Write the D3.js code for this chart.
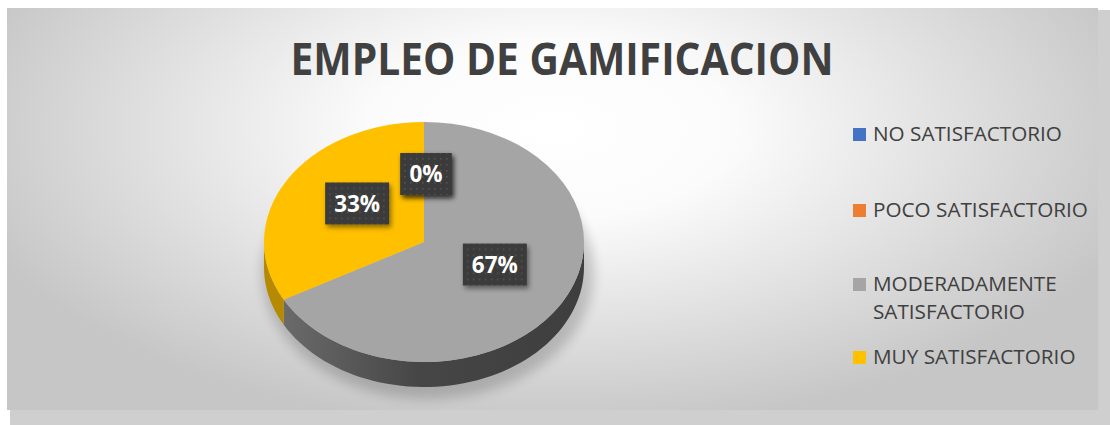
<!DOCTYPE html>
<html>
<head>
<meta charset="utf-8">
<script src="https://cdn.jsdelivr.net/npm/d3@7"></script>
<style>
  body { margin: 0; background: #fff; }
  svg { display: block; }
  text { font-family: "Open Sans", Calibri, sans-serif; }
</style>
</head>
<body>
<div id="chart"></div>
<script>
// Data
var categories = ["NO SATISFACTORIO", "POCO SATISFACTORIO", "MODERADAMENTE SATISFACTORIO", "MUY SATISFACTORIO"];
var shares = [0, 0, 67, 33];
var labels = ["0%", "0%", "67%", "33%"];
var legendLines = [["NO SATISFACTORIO"], ["POCO SATISFACTORIO"], ["MODERADAMENTE", "SATISFACTORIO"], ["MUY SATISFACTORIO"]];
var title = "EMPLEO DE GAMIFICACION";

var topColors = ["#4472c4", "#ed7d31", "#a5a5a5", "#ffc000"];
var sideColors = ["#2f528f", "#ae5a21", "#444444", "#b58a00"];

var svgWidth = 1110, svgHeight = 425;

var svg = d3.select("#chart").append("svg")
  .attr("width", svgWidth)
  .attr("height", svgHeight);

var defs = svg.append("defs");

// background gradient
var bg = defs.append("radialGradient")
  .attr("id", "bgGrad")
  .attr("cx", "0.5").attr("cy", "0.3").attr("r", "0.75")
  .attr("gradientTransform", "translate(0.5,0.3) scale(0.75,1) translate(-0.5,-0.3)");
bg.append("stop").attr("offset", "0%").attr("stop-color", "#ffffff");
bg.append("stop").attr("offset", "30%").attr("stop-color", "#fbfbfb");
bg.append("stop").attr("offset", "100%").attr("stop-color", "#c6c6c6");

var blur = defs.append("filter").attr("id", "blur").attr("x", "-20%").attr("y", "-20%").attr("width", "140%").attr("height", "140%");
blur.append("feGaussianBlur").attr("stdDeviation", 6);

var lblShadow = defs.append("filter").attr("id", "lblShadow").attr("x", "-30%").attr("y", "-30%").attr("width", "160%").attr("height", "160%");
lblShadow.append("feDropShadow").attr("dx", 2).attr("dy", 3).attr("stdDeviation", 2.5)
  .attr("flood-color", "#000").attr("flood-opacity", 0.45);

var dots = defs.append("pattern").attr("id", "dots")
  .attr("width", 6).attr("height", 6).attr("patternUnits", "userSpaceOnUse");
dots.append("rect").attr("width", 6).attr("height", 6).attr("fill", "#3b3b3b");
dots.append("rect").attr("x", 2).attr("y", 2).attr("width", 1.5).attr("height", 1.5).attr("fill", "#555");

var sideGrad = defs.append("linearGradient").attr("id", "sideGrad")
  .attr("x1", "0").attr("x2", "1").attr("y1", "0").attr("y2", "0");
sideGrad.append("stop").attr("offset", "0%").attr("stop-color", "#6a6a6a");
sideGrad.append("stop").attr("offset", "45%").attr("stop-color", "#464646");
sideGrad.append("stop").attr("offset", "100%").attr("stop-color", "#3e3e3e");

// chart frame + shadow
svg.append("rect")
  .attr("x", 10).attr("y", 10).attr("width", 1100).attr("height", 415)
  .attr("fill", "#cfcfcf");
svg.append("rect")
  .attr("x", 7).attr("y", 8).attr("width", 1091).attr("height", 402)
  .attr("fill", "url(#bgGrad)");

// title
var titleText = svg.append("text")
  .attr("x", 562).attr("y", 75)
  .attr("text-anchor", "middle")
  .attr("font-size", 44)
  .attr("font-weight", "bold")
  .attr("fill", "#404040")
  .text(title);
titleText.attr("textLength", 543).attr("lengthAdjust", "spacingAndGlyphs");

// pie geometry
var cx = 424, cy = 242, rx = 160, ry = 120, depth = 25;

var pie = d3.pie().sort(null).value(d => d);
var arcs = pie(shares);

function pt(a, dy) {
  return [cx + rx * Math.sin(a), cy - ry * Math.cos(a) + (dy || 0)];
}

// soft shadow under the pie
svg.append("ellipse")
  .attr("cx", cx + 4).attr("cy", cy + depth + 6)
  .attr("rx", rx + 6).attr("ry", ry + 6)
  .attr("fill", "#000").attr("opacity", 0.18)
  .attr("filter", "url(#blur)");

// side walls (front half only: angles between PI/2 and 3PI/2)
var line = d3.line();
arcs.forEach(function(d, i) {
  var a0 = Math.max(d.startAngle, Math.PI / 2);
  var a1 = Math.min(d.endAngle, Math.PI * 1.5);
  if (a1 <= a0) return;
  var n = 60, top = [], bottom = [];
  for (var k = 0; k <= n; k++) {
    var a = a0 + (a1 - a0) * k / n;
    top.push(pt(a));
    bottom.push(pt(a, depth));
  }
  var pts = top.concat(bottom.reverse());
  svg.append("path")
    .attr("d", line(pts) + "Z")
    .attr("fill", i === 2 ? "url(#sideGrad)" : sideColors[i]);
});

// top faces
var arc = d3.arc().innerRadius(0).outerRadius(rx);
var topG = svg.append("g")
  .attr("transform", `translate(${cx},${cy}) scale(1,${ry / rx})`);
topG.selectAll("path")
  .data(arcs)
  .enter()
  .append("path")
  .attr("d", arc)
  .attr("fill", (d, i) => topColors[i]);

// data labels
var labelG = svg.append("g");
arcs.forEach(function(d, i) {
  var mid = (d.startAngle + d.endAngle) / 2;
  var lx = cx + 2 + rx * 0.5 * Math.sin(mid);
  var ly = cy - 8 - ry * 0.5 * Math.cos(mid);
  var g = labelG.append("g").attr("transform", `translate(${lx},${ly})`);
  var t = g.append("text")
    .attr("text-anchor", "middle")
    .attr("dy", "0.36em")
    .attr("font-size", 22.5)
    .attr("font-weight", "bold")
    .attr("fill", "#fff")
    .text(labels[i]);
  var w = t.node().getComputedTextLength() + 18;
  g.insert("rect", "text")
    .attr("x", -w / 2).attr("y", -21)
    .attr("width", w).attr("height", 42)
    .attr("fill", "url(#dots)")
    .attr("filter", "url(#lblShadow)");
});

// legend
var legendY = [134, 210, 284, 357];
var legend = svg.append("g");
categories.forEach(function(c, i) {
  legend.append("rect")
    .attr("x", 853).attr("y", legendY[i] - 6)
    .attr("width", 13).attr("height", 13)
    .attr("fill", topColors[i]);
  legendLines[i].forEach(function(s, j) {
    legend.append("text")
      .attr("x", 873).attr("y", legendY[i] + j * 28)
      .attr("dy", "0.36em")
      .attr("font-size", 20.7)
      .attr("fill", "#404040")
      .text(s);
  });
});
</script>
</body>
</html>
